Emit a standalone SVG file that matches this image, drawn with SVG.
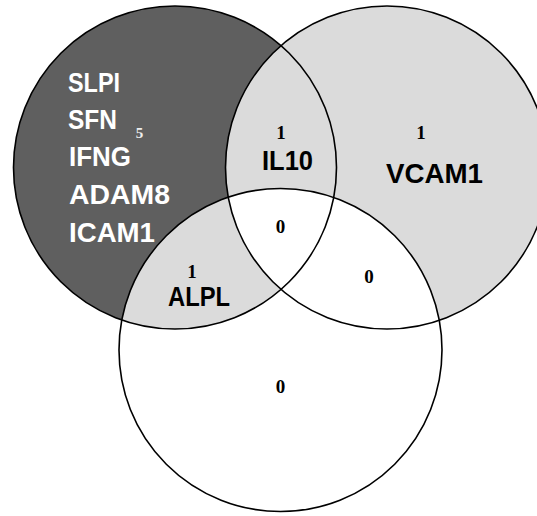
<svg xmlns="http://www.w3.org/2000/svg" width="537" height="516" viewBox="0 0 537 516">
  <style>
    .ring { fill: none; stroke: #000; stroke-width: 1.6; }
    .gene { font-family: "Liberation Sans", Arial, sans-serif; font-weight: bold; font-size: 27px; }
    .num { font-family: "Liberation Serif", "Times New Roman", serif; font-weight: bold; font-size: 19px; text-anchor: middle; fill: #000; }
    .light { fill: #dbdbdb; }
    .dark { fill: #5f5f5f; }
  </style>
  <defs>
    <circle id="cA" cx="175" cy="167.5" r="161.5"/>
    <circle id="cB" cx="387" cy="167.5" r="161.5"/>
    <circle id="cC" cx="280.5" cy="350" r="161.5"/>
    <clipPath id="clipA"><use href="#cA"/></clipPath>
    <clipPath id="clipB"><use href="#cB"/></clipPath>
  </defs>

  <rect width="537" height="516" fill="#fff"/>

  <!-- region fills -->
  <g id="fills">
    <use href="#cB" class="light"/>
    <use href="#cA" class="dark"/>
    <g clip-path="url(#clipA)">
      <use href="#cB" class="light"/>
      <use href="#cC" class="light"/>
    </g>
    <g clip-path="url(#clipB)">
      <use href="#cC" fill="#fff"/>
    </g>
  </g>

  <!-- set outlines -->
  <g id="set-left"><use href="#cA" class="ring"/></g>
  <g id="set-right"><use href="#cB" class="ring"/></g>
  <g id="set-bottom"><use href="#cC" class="ring"/></g>

  <!-- left-only region -->
  <g id="region-left" class="gene" fill="#fff">
    <text x="68" y="91.5" textLength="52" lengthAdjust="spacingAndGlyphs">SLPI</text>
    <text x="68" y="129" textLength="49" lengthAdjust="spacingAndGlyphs">SFN</text>
    <text x="69" y="166" textLength="62" lengthAdjust="spacingAndGlyphs">IFNG</text>
    <text x="69" y="203.5" textLength="101" lengthAdjust="spacingAndGlyphs">ADAM8</text>
    <text x="69" y="241.5" textLength="86" lengthAdjust="spacingAndGlyphs">ICAM1</text>
    <text x="139.5" y="137.5" style="font-family:'Liberation Serif','Times New Roman',serif;font-size:15px;text-anchor:middle" fill="#eee">5</text>
  </g>

  <!-- left ∩ right -->
  <g id="region-left-right">
    <text class="num" x="281" y="139">1</text>
    <text class="gene" x="262" y="169.5" textLength="51" lengthAdjust="spacingAndGlyphs" fill="#000">IL10</text>
  </g>

  <!-- right-only -->
  <g id="region-right">
    <text class="num" x="421" y="139">1</text>
    <text class="gene" x="386" y="182.5" textLength="97" lengthAdjust="spacingAndGlyphs" fill="#000">VCAM1</text>
  </g>

  <!-- left ∩ bottom -->
  <g id="region-left-bottom">
    <text class="num" x="192" y="278">1</text>
    <text class="gene" x="168" y="306" textLength="62" lengthAdjust="spacingAndGlyphs" fill="#000">ALPL</text>
  </g>

  <!-- centre, right ∩ bottom, bottom-only -->
  <g id="region-all"><text class="num" x="280.5" y="233">0</text></g>
  <g id="region-right-bottom"><text class="num" x="369" y="283">0</text></g>
  <g id="region-bottom"><text class="num" x="280.5" y="392.5">0</text></g>
</svg>
